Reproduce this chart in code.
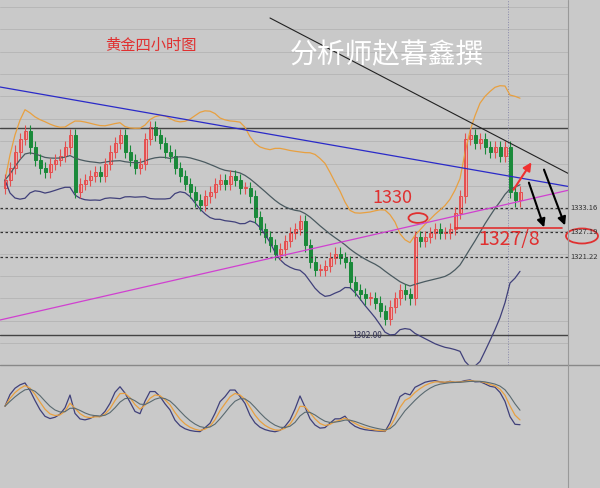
import numpy as np, pandas as pd, seaborn as sns, matplotlib
matplotlib.use("Agg")
import matplotlib.pyplot as plt
from matplotlib.patches import Ellipse

sns.set_theme(style="white")
plt.rcParams['font.family'] = ['Noto Sans CJK SC', 'DejaVu Sans']

closes = [1340,1343,1347,1350,1352,1348,1345,1343,1342,1344,1345,1346,1348,1351,1337,1339,1340,1341,1342,1341,
          1344,1347,1349,1351,1347,1345,1343,1344,1350,1353,1351,1349,1347,1346,1343,1341,1339,1337,1335,1334,
          1336,1337,1339,1340,1339,1341,1340,1338,1338,1336,1331,1328,1326,1324,1322,1323,1325,1327,1328,1330,
          1324,1320,1318,1318,1319,1321,1322,1321,1320,1315,1313,1312,1311,1311,1310,1308,1306,1309,1311,1313,
          1312,1311,1326,1325,1326,1327,1328,1327,1327,1328,1332,1336,1350,1351,1349,1350,1348,1347,1348,1346,
          1348,1337,1335,1337]
levels = [1333.16, 1327.19, 1321.22]
level_labels = ["1333.16", "1327.19", "1321.22"]
solid_levels = [1352.8, 1302.0]

def px2p(y): return 1333.16 - (y - 208) * 0.245
def px2i(x): return x / 5 - 1

n = len(closes)
idx = np.arange(n)
c = np.array(closes, float)
o = np.r_[c[0] - 2, c[:-1]]
df = pd.DataFrame({"i": idx, "close": c})
mid = df.close.rolling(20, min_periods=1).mean()
sd = df.close.rolling(20, min_periods=1).std().fillna(0)
df["mid"], df["up"], df["lo"] = mid, mid + 2.2 * sd, mid - 2.2 * sd

fig = plt.figure(figsize=(6, 4.88), dpi=100, facecolor="#c9c9c9")
ax = fig.add_axes([0, 123/488, 568/600, 365/488])
ax.set_facecolor("#c9c9c9")
ax.set_xlim(-1, px2i(568)); ax.set_ylim(px2p(365), px2p(0))
ax.axis("off")
for y in np.arange(1300, 1385, 5.5):
    ax.axhline(y, color="#b4b4b4", lw=0.6, zorder=0)
for lv in levels:
    ax.axhline(lv, color="#333333", lw=0.9, ls=(0, (2, 2)))
for lv in solid_levels:
    ax.axhline(lv, color="#444444", lw=1)
ax.axvline(px2i(508), color="#8888aa", lw=0.7, ls=":")

sns.lineplot(data=df, x="i", y="up", color="#e8a040", lw=0.9, ax=ax)
sns.lineplot(data=df, x="i", y="mid", color="#4a5a60", lw=0.9, ax=ax)
sns.lineplot(data=df, x="i", y="lo", color="#40407a", lw=0.9, ax=ax)

for i in range(n):
    col = "#e45050" if c[i] >= o[i] else "#1a8a3a"
    lo_, hi_ = min(o[i], c[i]), max(o[i], c[i])
    ax.vlines(i, lo_ - 1.5, hi_ + 1.5, color=col, lw=0.8)
    ax.bar(i, max(hi_ - lo_, 0.3), bottom=lo_, width=0.6, color="#f0b0b0" if col == "#e45050" else col,
           edgecolor=col, lw=0.7)

def seg(x0, y0, x1, y1, **kw):
    ax.plot([px2i(x0), px2i(x1)], [px2p(y0), px2p(y1)], **kw)
seg(0, 87, 600, 192, color="#2a2ac8", lw=0.9)
seg(270, 18, 600, 190, color="#222222", lw=0.8)
seg(0, 320, 600, 183, color="#d040d0", lw=0.9)
seg(455, 228, 562, 228, color="#e03030", lw=1.2)

def arr(x0, y0, x1, y1, col):
    ax.annotate("", xy=(px2i(x1), px2p(y1)), xytext=(px2i(x0), px2p(y0)),
                arrowprops=dict(arrowstyle="-|>", color=col, lw=1.5))
arr(512, 192, 533, 160, "#f03030")
arr(528, 180, 545, 230, "black")
arr(543, 167, 566, 228, "black")

ax.add_patch(Ellipse((px2i(418), px2p(218)), 3.8, 2.4, fill=False, ec="#e03030", lw=1.3))
ax.text(px2i(372), px2p(203), "1330", color="#e03030", fontsize=13)
ax.text(px2i(478), px2p(245), "1327/8", color="#e03030", fontsize=14)
ax.text(px2i(105), px2p(45), "黄金四小时图", color="#e03030", fontsize=11, va="center")
ax.text(px2i(290), px2p(55), "分析师赵暮鑫撰", color="white", fontsize=20, va="center")
ax.text(px2i(352), px2p(335), "1302.00", color="#333355", fontsize=6, va="center")
for lv, lb in zip(levels, level_labels):
    fig.text(570/600, 1 - (208 + (1333.16 - lv) / 0.245) / 488, lb, fontsize=5.5, color="#333333", va="center")
fig.add_artist(Ellipse((582/600, 1 - 236/488), 32/600, 15/488, fill=False, ec="#e03030", lw=1.3))

# oscillator panel
ax2 = fig.add_axes([0, 0, 568/600, 118/488]); ax2.set_facecolor("#c9c9c9"); ax2.axis("off")
lowm = df.close.rolling(9, min_periods=1).min(); highm = df.close.rolling(9, min_periods=1).max()
k = 100 * (df.close - lowm + 1) / (highm - lowm + 2)
df["k"] = k.ewm(span=3).mean(); df["d"] = df["k"].ewm(span=3).mean(); df["j"] = df["d"].ewm(span=4).mean()
sns.lineplot(data=df, x="i", y="k", color="#40407a", lw=0.9, ax=ax2)
sns.lineplot(data=df, x="i", y="d", color="#e8a040", lw=0.9, ax=ax2)
sns.lineplot(data=df, x="i", y="j", color="#5a6a70", lw=0.8, ax=ax2)
ax2.set_xlim(-1, px2i(568)); ax2.set_ylim(-90, 112)
fig.add_artist(plt.Line2D([0, 1], [1 - 365/488] * 2, color="#888888", lw=1))
fig.add_artist(plt.Line2D([568/600] * 2, [0, 1], color="#999999", lw=0.8))
fig.savefig("out.png", dpi=100, facecolor=fig.get_facecolor())
